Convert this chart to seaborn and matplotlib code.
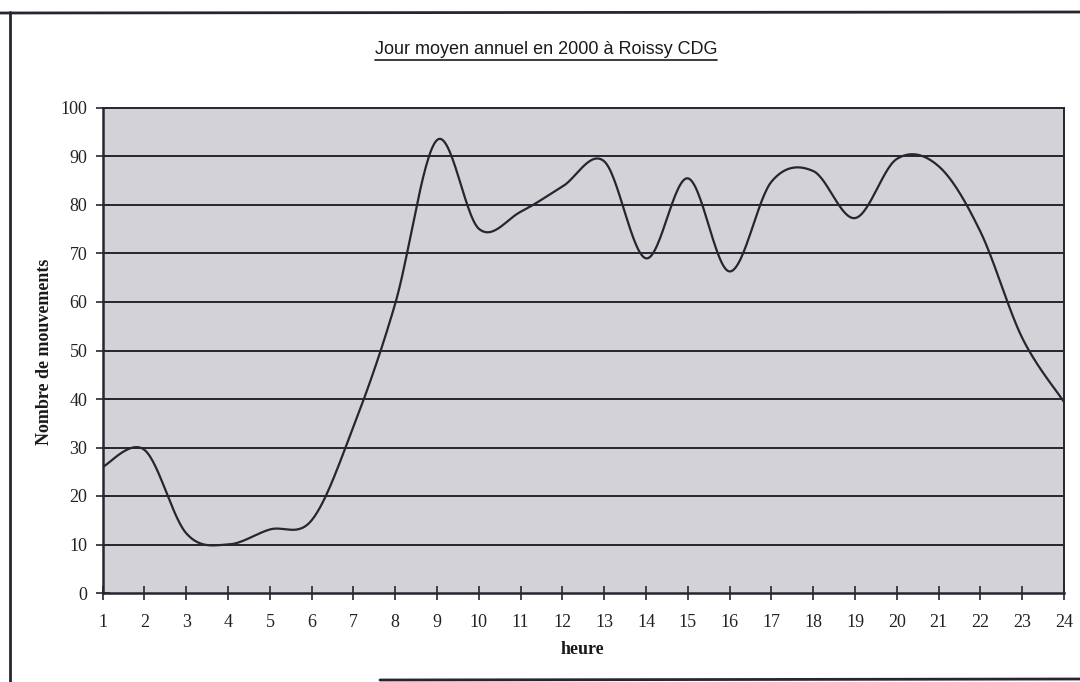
import numpy as np
import pandas as pd
import matplotlib
matplotlib.use("Agg")
import matplotlib.pyplot as plt
from matplotlib.lines import Line2D
import seaborn as sns

# ---- data ----
heures = list(range(1, 25))
mouvements = [26.0, 29.5, 12.3, 10.0, 13.1, 15.0, 34.3, 59.7, 93.4, 75.1, 78.6, 83.8,
              89.0, 69.0, 85.5, 66.3, 84.8, 87.0, 77.3, 89.5, 88.0, 74.5, 52.6, 39.4]
yticks = [0, 10, 20, 30, 40, 50, 60, 70, 80, 90, 100]
titre = "Jour moyen annuel en 2000 à Roissy CDG"
xlabel = "heure"
ylabel = "Nombre de mouvements"


def smooth(xs, ys, n=30):
    """Excel-like smoothed line (Catmull-Rom Bezier) through the data points."""
    P = np.column_stack([xs, ys]).astype(float)
    Pext = np.vstack([P[0], P, P[-1]])
    out = []
    t = np.linspace(0, 1, n, endpoint=False)[:, None]
    for i in range(len(P) - 1):
        p0, p1, p2, p3 = Pext[i], Pext[i + 1], Pext[i + 2], Pext[i + 3]
        b1 = p1 + (p2 - p0) / 6.0
        b2 = p2 - (p3 - p1) / 6.0
        seg = ((1 - t) ** 3) * p1 + 3 * ((1 - t) ** 2) * t * b1 + 3 * (1 - t) * t ** 2 * b2 + t ** 3 * p2
        out.append(seg)
    out.append(P[-1][None, :])
    return np.vstack(out)


curve = smooth(heures, mouvements)
df = pd.DataFrame({"heure": curve[:, 0], "mouvements": curve[:, 1]})

sns.set_theme(style="white")
plt.rcParams["font.family"] = ["Liberation Serif", "DejaVu Serif"]

ink = "#2a2430"
fig = plt.figure(figsize=(10.8, 6.82), dpi=100)
fig.patch.set_facecolor("white")
ax = fig.add_axes([102.7 / 1080, 1 - 593 / 682, (1064 - 102.7) / 1080, (593 - 108) / 682])
ax.set_facecolor("#d3d2d7")

for v in yticks[1:-1]:
    ax.axhline(v, color=ink, lw=1.4, zorder=1)

sns.lineplot(data=df, x="heure", y="mouvements", ax=ax, sort=False, estimator=None,
             color=ink, lw=1.6, zorder=3)

ax.set_xlim(1, 24)
ax.set_ylim(0, 100)
ax.set_xticks(heures)
ax.set_xticklabels([str(h) for h in heures])
ax.set_yticks(yticks)
ax.set_yticklabels([str(v) for v in yticks])
ax.tick_params(axis="both", direction="inout", length=10, width=1.2, colors=ink,
               labelcolor="#222222", labelsize=13)
ax.tick_params(axis="x", pad=10)
ax.tick_params(axis="y", pad=6)
ax.tick_params(axis="both", left=True, bottom=True)
for s in ax.spines.values():
    s.set_color(ink)
    s.set_linewidth(1.4)
ax.spines["left"].set_linewidth(1.8)
ax.spines["bottom"].set_linewidth(1.8)

ax.set_xlabel("")
ax.set_ylabel("")
fig.text(45 / 1080, 1 - 352 / 682, ylabel, rotation=90, ha="center", va="center",
         fontsize=13, fontweight="bold", color="#1a1a1a")
fig.text(582 / 1080, 1 - 650 / 682, xlabel, ha="center", va="center",
         fontsize=13, fontweight="bold", color="#1a1a1a")

t = fig.text(546 / 1080, 1 - 50 / 682, titre, ha="center", va="center",
             fontsize=13, color="#1a1a1a", family=["Liberation Sans Narrow", "Liberation Sans", "DejaVu Sans"])
fig.canvas.draw()
bb = t.get_window_extent()
fig.add_artist(Line2D([bb.x0, bb.x1], [bb.y0 - 1, bb.y0 - 1], transform=None, color="#1a1a1a", lw=1.2))

# document frame from the scanned page
fig.add_artist(Line2D([0, 1], [1 - 13 / 682, 1 - 12 / 682], transform=fig.transFigure, color=ink, lw=2.0))
fig.add_artist(Line2D([10 / 1080, 10 / 1080], [0, 1 - 12 / 682], transform=fig.transFigure, color=ink, lw=2.0))
fig.add_artist(Line2D([380 / 1080, 1], [2 / 682, 3 / 682], transform=fig.transFigure, color=ink, lw=2.0))

fig.savefig("out.png", dpi=100)
